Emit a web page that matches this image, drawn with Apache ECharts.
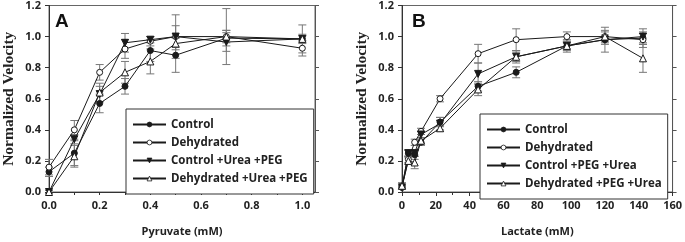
<!DOCTYPE html>
<html>
<head>
<meta charset="utf-8">
<script src="https://cdn.jsdelivr.net/npm/echarts@6/dist/echarts.min.js"></script>
<style>
  html, body { margin: 0; padding: 0; background: #fff; }
  #main { width: 685px; height: 242px; }
</style>
</head>
<body>
<div id="main"></div>
<script>
// panel A - pyruvate
var pyruvateX = [0, 0.1, 0.2, 0.3, 0.4, 0.5, 0.7, 1.0];
var controlA = [0.13, 0.25, 0.57, 0.68, 0.91, 0.88, 0.99, 0.985];
var dehydA = [0.16, 0.40, 0.77, 0.92, 0.97, 1.00, 1.00, 0.925];
var ctrlUreaA = [0.0, 0.34, 0.63, 0.96, 0.98, 1.00, 0.965, 0.985];
var dehydUreaA = [0.0, 0.23, 0.64, 0.77, 0.84, 0.955, 1.00, 0.985];
var controlAErr = [0.03, 0.08, 0.06, 0.05, 0.07, 0.11, 0.05, 0.03];
var dehydAErr = [0.05, 0.06, 0.05, 0.06, 0.03, 0.14, 0.18, 0.05];
var ctrlUreaAErr = [0.01, 0.03, 0.05, 0.06, 0.02, 0.07, 0.06, 0.09];
var dehydUreaAErr = [0.01, 0.07, 0.06, 0.07, 0.08, 0.04, 0.04, 0.02];

// panel B - lactate
var lactateX = [0, 3.75, 7.5, 11.25, 22.5, 45, 67.5, 97.5, 120, 142.5];
var controlB = [0.03, 0.25, 0.24, 0.32, 0.45, 0.68, 0.77, 0.94, 0.98, 0.99];
var dehydB = [0.03, 0.21, 0.32, 0.39, 0.60, 0.89, 0.98, 1.00, 1.00, 0.98];
var ctrlPegB = [0.03, 0.25, 0.25, 0.37, 0.44, 0.76, 0.87, 0.94, 0.98, 1.00];
var dehydPegB = [0.04, 0.20, 0.19, 0.33, 0.41, 0.66, 0.87, 0.94, 1.00, 0.86];
var controlBErr = [0.01, 0.02, 0.03, 0.02, 0.03, 0.03, 0.035, 0.02, 0.03, 0.03];
var dehydBErr = [0.01, 0.02, 0.02, 0.02, 0.02, 0.06, 0.07, 0.03, 0.04, 0.05];
var ctrlPegBErr = [0.01, 0.02, 0.02, 0.02, 0.04, 0.07, 0.04, 0.03, 0.08, 0.05];
var dehydPegBErr = [0.02, 0.02, 0.04, 0.02, 0.02, 0.04, 0.03, 0.04, 0.03, 0.09];

var yTicks = ['0.0', '0.2', '0.4', '0.6', '0.8', '1.0', '1.2'];

var chart = echarts.init(document.getElementById('main'));

var labelFont = { fontFamily: 'Open Sans', fontWeight: 'bold', fontSize: 11, color: '#222' };
var legendFont = { fontFamily: 'Open Sans', fontWeight: 'bold', fontSize: 11.5, color: '#222' };
var lineCol = '#1a1a1a';
var errCol = '#777';

function pairs(xs, ys) {
  return xs.map(function (x, i) { return [x, ys[i]]; });
}
function triples(xs, ys, es) {
  return xs.map(function (x, i) { return [x, ys[i], es[i]]; });
}

function errorBars(xs, ys, es, xi, yi) {
  return {
    type: 'custom',
    xAxisIndex: xi,
    yAxisIndex: yi,
    z: 1,
    silent: true,
    data: triples(xs, ys, es),
    renderItem: function (params, api) {
      var x = api.value(0), y = api.value(1), e = api.value(2);
      var hi = api.coord([x, y + e]);
      var lo = api.coord([x, y - e]);
      var w = 4;
      var st = { stroke: errCol, lineWidth: 1 };
      return {
        type: 'group',
        children: [
          { type: 'line', shape: { x1: hi[0], y1: hi[1], x2: lo[0], y2: lo[1] }, style: st },
          { type: 'line', shape: { x1: hi[0] - w, y1: hi[1], x2: hi[0] + w, y2: hi[1] }, style: st },
          { type: 'line', shape: { x1: lo[0] - w, y1: lo[1], x2: lo[0] + w, y2: lo[1] }, style: st }
        ]
      };
    }
  };
}

function lineSeries(name, xs, ys, xi, yi, symbol, filled, rotate) {
  return {
    type: 'line',
    name: name,
    xAxisIndex: xi,
    yAxisIndex: yi,
    z: 3,
    data: pairs(xs, ys),
    symbol: symbol,
    symbolSize: symbol === 'triangle' ? 7 : 6,
    symbolRotate: rotate || 0,
    showAllSymbol: true,
    lineStyle: { color: lineCol, width: 1 },
    itemStyle: { color: filled ? lineCol : '#fff', borderColor: lineCol, borderWidth: 1 }
  };
}

function yLeft(gi, name) {
  return {
    type: 'value', gridIndex: gi, min: 0, max: 1.2, interval: 0.2, position: 'left',
    name: name, nameLocation: 'middle', nameGap: 32,
    nameTextStyle: { fontFamily: 'Liberation Serif', fontWeight: 'bold', fontSize: 15.5, color: '#222' },
    axisLine: { show: true, lineStyle: { color: '#333' } },
    axisTick: { show: true, length: 4, lineStyle: { color: '#333' } },
    axisLabel: Object.assign({ margin: 8, formatter: function (v) { return yTicks[Math.round(v / 0.2)]; } }, labelFont),
    splitLine: { show: false }
  };
}
function yRight(gi) {
  return {
    type: 'value', gridIndex: gi, min: 0, max: 1.2, interval: 0.2, position: 'right',
    axisLine: { show: true, lineStyle: { color: '#555' } },
    axisTick: { show: true, length: 4, lineStyle: { color: '#555' } },
    axisLabel: { show: false },
    splitLine: { show: false }
  };
}

function legendBox(left, top, names) {
  return {
    left: left, top: top, orient: 'vertical', itemWidth: 33, itemHeight: 6, itemGap: 3,
    padding: [8, 6, 8, 6], borderColor: '#333', borderWidth: 1, backgroundColor: '#fff',
    itemStyle: { borderWidth: 0.8 },
    selectedMode: false, textStyle: Object.assign({ lineHeight: 15 }, legendFont),
    data: names
  };
}

var option = {
  animation: false,
  backgroundColor: '#fff',
  grid: [
    { left: 42, top: 5, width: 273, height: 190, show: true, borderColor: '#666', borderWidth: 1 },
    { left: 402, top: 5, width: 271, height: 190, show: true, borderColor: '#666', borderWidth: 1 }
  ],
  xAxis: [
    {
      type: 'value', gridIndex: 0, min: 0, max: 1.05, interval: 0.1,
      name: 'Pyruvate (mM)', nameLocation: 'middle', nameGap: 34,
      nameTextStyle: labelFont,
      axisLine: { lineStyle: { color: '#333' } },
      axisTick: { length: 3, lineStyle: { color: '#333' } },
      axisLabel: Object.assign({
        margin: 8,
        showMaxLabel: false,
        formatter: function (v) {
          var k = Math.round(v * 10);
          return (Math.abs(v * 10 - k) < 1e-6 && k % 2 === 0) ? v.toFixed(1) : '';
        }
      }, labelFont),
      splitLine: { show: false }
    },
    {
      type: 'value', gridIndex: 1, min: 0, max: 160, interval: 20,
      name: 'Lactate (mM)', nameLocation: 'middle', nameGap: 34,
      nameTextStyle: labelFont,
      axisLine: { lineStyle: { color: '#333' } },
      axisTick: { length: 4, lineStyle: { color: '#333' } },
      minorTick: { show: true, splitNumber: 2, length: 3, lineStyle: { color: '#333' } },
      axisLabel: Object.assign({ margin: 8 }, labelFont),
      splitLine: { show: false }
    }
  ],
  yAxis: [yLeft(0, 'Normalized Velocity'), yRight(0), yLeft(1, 'Normalized Velocity'), yRight(1)],
  legend: [
    legendBox(126, 109, ['Control', 'Dehydrated', 'Control +Urea +PEG', 'Dehydrated +Urea +PEG']),
    legendBox(480, 114, ['Control', 'Dehydrated', 'Control +PEG +Urea', 'Dehydrated +PEG +Urea'])
  ],
  graphic: [
    { type: 'text', left: 55, top: 12, style: { text: 'A', font: 'bold 19px Liberation Sans', fill: '#111' } },
    { type: 'text', left: 412, top: 12, style: { text: 'B', font: 'bold 19px Liberation Sans', fill: '#111' } }
  ],
  series: [
    errorBars(pyruvateX, controlA, controlAErr, 0, 0),
    errorBars(pyruvateX, dehydA, dehydAErr, 0, 0),
    errorBars(pyruvateX, ctrlUreaA, ctrlUreaAErr, 0, 0),
    errorBars(pyruvateX, dehydUreaA, dehydUreaAErr, 0, 0),
    lineSeries('Control', pyruvateX, controlA, 0, 0, 'circle', true),
    lineSeries('Dehydrated', pyruvateX, dehydA, 0, 0, 'circle', false),
    lineSeries('Control +Urea +PEG', pyruvateX, ctrlUreaA, 0, 0, 'triangle', true, 180),
    lineSeries('Dehydrated +Urea +PEG', pyruvateX, dehydUreaA, 0, 0, 'triangle', false),
    errorBars(lactateX, controlB, controlBErr, 1, 2),
    errorBars(lactateX, dehydB, dehydBErr, 1, 2),
    errorBars(lactateX, ctrlPegB, ctrlPegBErr, 1, 2),
    errorBars(lactateX, dehydPegB, dehydPegBErr, 1, 2),
    lineSeries('Control', lactateX, controlB, 1, 2, 'circle', true),
    lineSeries('Dehydrated', lactateX, dehydB, 1, 2, 'circle', false),
    lineSeries('Control +PEG +Urea', lactateX, ctrlPegB, 1, 2, 'triangle', true, 180),
    lineSeries('Dehydrated +PEG +Urea', lactateX, dehydPegB, 1, 2, 'triangle', false)
  ]
};

chart.setOption(option);
</script>
</body>
</html>
